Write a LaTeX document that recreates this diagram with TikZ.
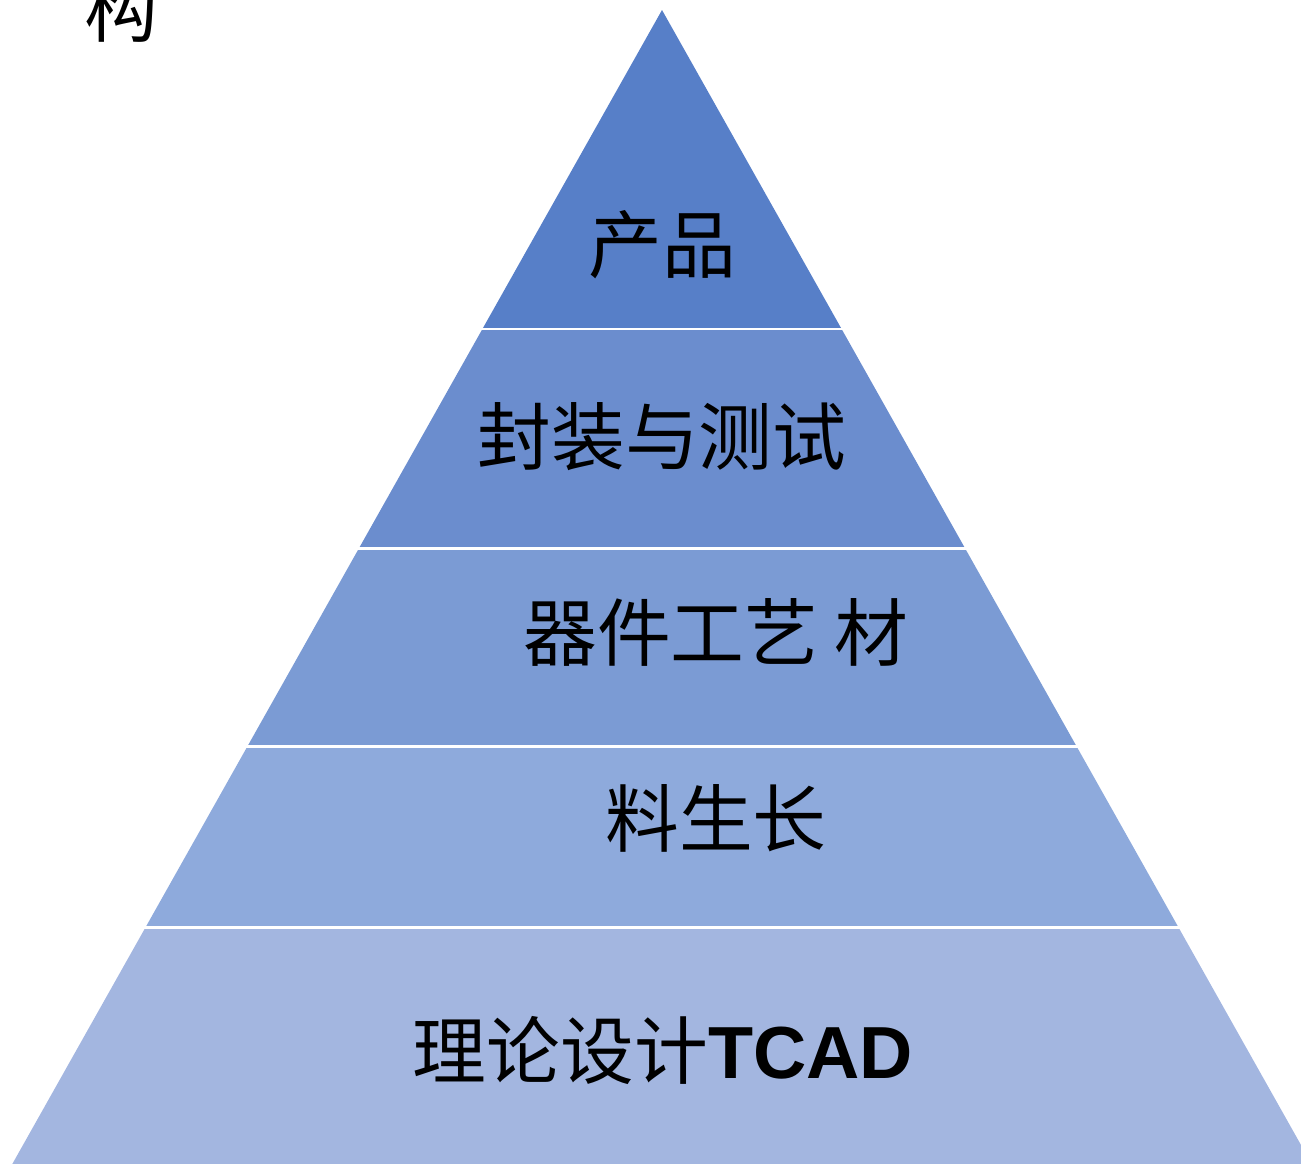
\documentclass[tikz,border=0pt]{standalone}
\usepackage{fontspec}
\newfontfamily\cjk{Noto Sans CJK SC}
\newfontfamily\latn{Liberation Sans}
\definecolor{lvA}{HTML}{577FC8}
\definecolor{lvB}{HTML}{6B8DCE}
\definecolor{lvC}{HTML}{7B9BD4}
\definecolor{lvD}{HTML}{8EAADC}
\definecolor{lvE}{HTML}{A3B6E0}
\tikzset{
  lvtext/.style={font=\cjk\fontsize{42}{50}\selectfont, inner sep=0pt},
  gap/.style={draw=white, line width=1.7pt}
}
\begin{document}
\begin{tikzpicture}[x=0.02cm, y=-0.02cm]
\useasboundingbox (0,0) rectangle (1301,1163);
% pyramid bands, top to bottom
\foreach \ya/\yb/\col in {10/329/lvA, 329/548/lvB, 548/746/lvC, 746/927/lvD, 927/1180/lvE}
  \fill[\col] ({662-0.563*(\ya-10)},\ya) -- ({662+0.563*(\ya-10)},\ya)
    -- ({662+0.563*(\yb-10)},\yb) -- ({662-0.563*(\yb-10)},\yb) -- cycle;
% white lines between bands
\foreach \y in {329, 548, 746, 927}
  \draw[gap] ({662-0.563*(\y-10)-2},\y) -- ({662+0.563*(\y-10)+2},\y);
\node[lvtext] (prod) at (662,245) {产品};
\node[lvtext] (pack) at (662,437) {封装与测试};
\node[lvtext] (dev)  at (716,632) {器件工艺 材};
\node[lvtext] (grow) at (716,818) {料生长};
\node[lvtext] (tcad) at (663,1050) {理论设计{\latn\bfseries TCAD}};
\node[lvtext] (cut)  at (121,8) {构};
\end{tikzpicture}
\end{document}
